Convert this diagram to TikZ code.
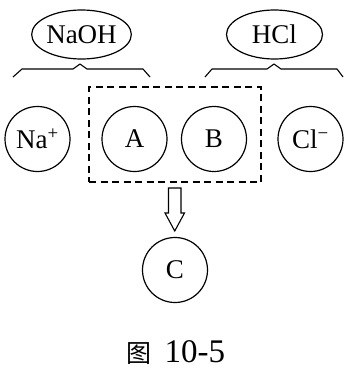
\documentclass[tikz,border=0pt]{standalone}
\usepackage{fontspec}
\setmainfont{Liberation Serif}
\newfontfamily\cjk{Noto Sans CJK SC}
\usetikzlibrary{shapes.geometric}
\begin{document}
\begin{tikzpicture}[x=1pt,y=-1pt,
  line width=1.2pt,
  lbl/.style={font=\fontsize{27}{30}\selectfont},
  ion/.style={lbl,circle,draw,minimum size=65pt,inner sep=0pt},
  oval/.style={lbl,ellipse,draw,minimum width=96pt,minimum height=49pt,inner sep=0pt},
  bracepath/.style={line width=1.1pt,line join=round},
  dashbox/.style={draw,dash pattern=on 7pt off 4.5pt,line width=1.2pt},
  hollowarrow/.style={draw,line width=1.1pt,fill=white,line join=miter}
]
\useasboundingbox (0,0) rectangle (345,370);
% top ellipses
\node[oval] (naoh) at (81.5,34.5) {NaOH};
\node[oval] (hcl) at (274.5,34.5) {HCl};
% braces
\coordinate (lt) at (80,64);
\coordinate (rt) at (274,64);
\draw[bracepath] (13,77) -- (22,69) -- (73,69) -- (lt) -- (87,69) -- (143,69) -- (150,77);
\draw[bracepath] (205,77) -- (212,69) -- (267,69) -- (rt) -- (281,69) -- (337,69) -- (343,77);
% dashed box
\node[dashbox,minimum width=172pt,minimum height=95pt,inner sep=0pt] (box) at (175,134.5) {};
% ions
\node[ion] (na) at (37.5,139) {Na\textsuperscript{+}};
\node[ion] (a) at (134.5,139) {A};
\node[ion] (b) at (214,139) {B};
\node[ion] (cl) at (310.5,139) {Cl\textsuperscript{−}};
\node[ion] (c) at (175,270) {C};
% hollow arrow
\draw[hollowarrow] (168.5,188) -- (181,188) -- (181,213) -- (184.5,213) -- (174.75,231) -- (165,213) -- (168.5,213) -- cycle;
% caption
\node[inner sep=0pt,anchor=base west] (cap) at (126,362) {{\cjk\fontsize{25}{28}\selectfont 图}\hspace{13pt}{\fontsize{33}{35}\selectfont 10-5}};
\end{tikzpicture}
\end{document}
